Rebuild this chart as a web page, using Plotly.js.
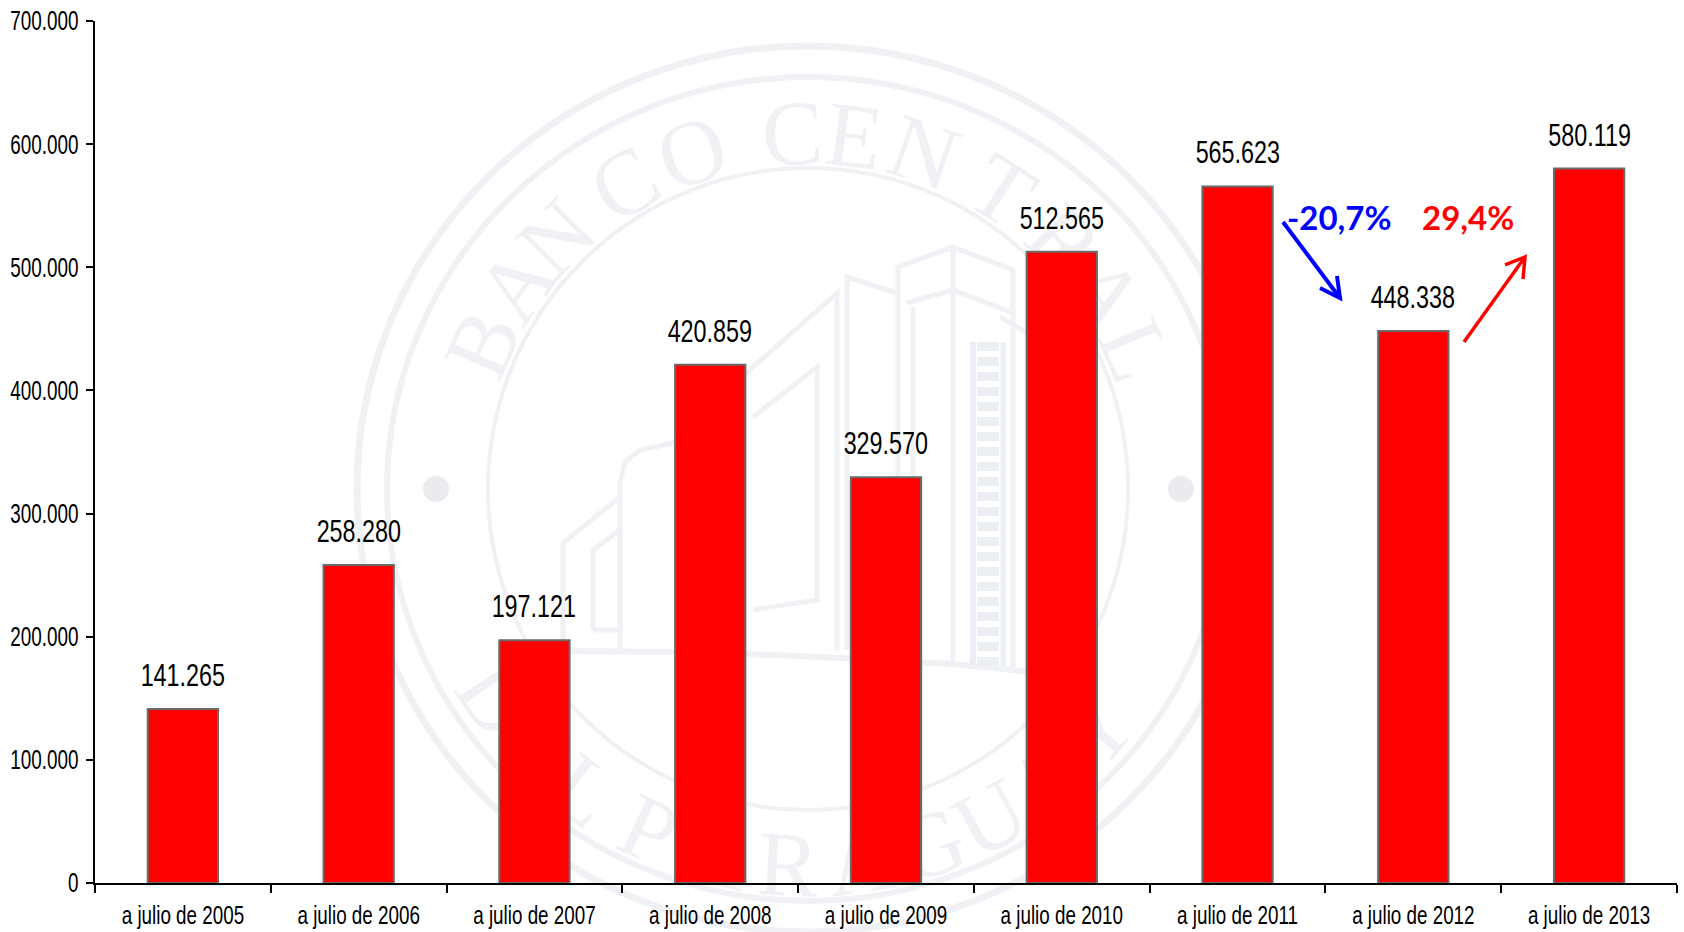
<!DOCTYPE html>
<html>
<head>
<meta charset="utf-8">
<script src="https://cdn.plot.ly/plotly-3.0.1.min.js"></script>
<style>html,body{margin:0;padding:0;background:#fff}#chart{width:1684px;height:932px}</style>
</head>
<body>
<div id="chart"></div>
<script>
const categories = ["a julio de 2005","a julio de 2006","a julio de 2007","a julio de 2008","a julio de 2009","a julio de 2010","a julio de 2011","a julio de 2012","a julio de 2013"];
const values = [141265,258280,197121,420859,329570,512565,565623,448338,580119];
const valueLabels = ["141.265","258.280","197.121","420.859","329.570","512.565","565.623","448.338","580.119"];
const sealTopLetters = ["B","A","N","C","O","C","E","N","T","R","A","L"];
const sealTopAngles = [-66,-55,-45,-31,-19,-2.5,7.5,19,33,46,56.5,67];
const sealBottomLetters = ["D","E","L","P","A","R","A","G","U","A","Y"];
const sealBottomAngles = [-56,-46,-36.7,-25,-14,-3,8,19,29,39,50];

const W = 1684, H = 932, L = 95, R = 1677, T = 21, B = 883;
const px = x => (x - L) / (R - L);
const py = y => (B - y) / (B - T);
const CX = 808, CY = 489, SEAL = '#eff1f4';

function ring(rx, ry, w) {
  return {type:'circle', xref:'paper', yref:'paper', layer:'below',
    x0:px(CX-rx), x1:px(CX+rx), y0:py(CY+ry), y1:py(CY-ry),
    line:{color:SEAL, width:w}, fillcolor:'rgba(0,0,0,0)'};
}
function dot(x, y, r) {
  return {type:'circle', xref:'paper', yref:'paper', layer:'below',
    x0:px(x-r), x1:px(x+r), y0:py(y+r), y1:py(y-r),
    line:{width:0}, fillcolor:'#e9ebef'};
}
function stroke(pts, w, color, dash) {
  const d = pts.map((p,i)=>(i?'L':'M')+px(p[0]).toFixed(5)+','+py(p[1]).toFixed(5)).join(' ');
  return {type:'path', xref:'paper', yref:'paper', layer:'below', path:d,
    line:{color:color||SEAL, width:w||5, dash:dash||'solid'}, fillcolor:'rgba(0,0,0,0)'};
}
function over(pts, w, color) {
  const s = stroke(pts, w, color); s.layer = 'above'; return s;
}
function letter(ch, deg, top) {
  const a = deg*Math.PI/180, r = 366;
  const x = CX + r*Math.sin(a), y = top ? CY - r*Math.cos(a) : CY + r*Math.cos(a);
  const rot = top ? deg : -deg;
  return {type:'rect', xref:'paper', yref:'paper', layer:'below',
    x0:px(x-40), x1:px(x+40), y0:py(y+40), y1:py(y-40),
    line:{width:0}, fillcolor:'rgba(0,0,0,0)',
    label:{text:ch, textangle:rot, textposition:'middle center',
      font:{family:'Liberation Serif', size:92, color:SEAL}}};
}

const shapes = [
  ring(451,443,7), ring(421,412,6), ring(320,321,4),
  dot(436,489,13), dot(1181,489,13),
  ...sealTopLetters.map((c,i)=>letter(c,sealTopAngles[i],true)),
  ...sealBottomLetters.map((c,i)=>letter(c,sealBottomAngles[i],false)),
  // building of the seal
  stroke([[556,651],[700,652],[820,657],[953,664],[1030,672]],6),
  stroke([[563,650],[563,543],[620,497]]),
  stroke([[593,630],[593,550],[620,530],[620,630],[593,630]]),
  stroke([[620,650],[620,483],[625,462],[640,450],[673,443]]),
  stroke([[673,443],[753,367],[837,293],[837,650]]),
  stroke([[753,417],[817,367],[817,600],[753,610]]),
  stroke([[847,650],[847,277],[897,293]]),
  stroke([[898,653],[898,267],[953,247],[1013,270],[1013,667]]),
  stroke([[907,303],[953,290],[1013,313]]),
  stroke([[953,247],[953,662]]),
  stroke([[913,307],[913,655]]),
  stroke([[1000,317],[1027,333]]),
  stroke([[973,342],[973,666]],6,'#ebeff3'),
  stroke([[1003,342],[1003,666]],5,'#ebeff3'),
  stroke([[988,342],[988,666]],22,'#ebeff3','9px,6px'),
  // change arrows
  over([[1283,222],[1340,298]],4,'#0000ff'),
  over([[1320,288],[1340,298],[1337,276]],4,'#0000ff'),
  over([[1464,342],[1525,257]],3.5,'#ff0000'),
  over([[1505,265],[1525,257],[1523,279]],3.5,'#ff0000')
];

const labelFont = {family:'Liberation Sans', size:32, color:'#000'};
const annotations = categories.map((c,i)=>({
  x:c, y:values[i], xref:'x', yref:'y', text:valueLabels[i], showarrow:false,
  yanchor:'bottom', yshift:14, font:labelFont, captureevents:false
}));
annotations.push(
  {xref:'paper', yref:'paper', x:px(1339), y:py(217), xanchor:'center', yanchor:'middle', text:'<b>-20,7%</b>', showarrow:false,
   font:{family:'Lato', size:33, color:'#0000ff'}},
  {xref:'paper', yref:'paper', x:px(1468), y:py(217), xanchor:'center', yanchor:'middle', text:'<b>29,4%</b>', showarrow:false,
   font:{family:'Lato', size:33, color:'#ff0000'}}
);

const trace = {type:'bar', x:categories, y:values, width:0.4,
  marker:{color:'#ff0000', line:{color:'#6a6a6a', width:2}}, hoverinfo:'x+y'};

const layout = {
  width:W, height:H, margin:{l:L, r:W-R, t:T, b:H-B, pad:0},
  paper_bgcolor:'#fff', plot_bgcolor:'rgba(0,0,0,0)', showlegend:false, separators:',.',
  xaxis:{type:'category', range:[-0.5,8.5], tickson:'boundaries', ticks:'outside', ticklen:8, tickwidth:2,
    tickcolor:'#000', showline:true, linecolor:'#000', linewidth:2, showgrid:false, zeroline:false,
    ticklabelstandoff:7,
    tickfont:{family:'Liberation Sans', size:26.5, color:'#000'}, automargin:false, tickangle:0},
  yaxis:{range:[0,700000], tick0:0, dtick:100000, tickformat:',d', ticks:'outside', ticklen:7, tickwidth:2,
    tickcolor:'#000', showline:true, linecolor:'#000', linewidth:2, showgrid:false, zeroline:false,
    ticklabelstandoff:2,
    tickfont:{family:'Liberation Sans', size:27, color:'#000'}, automargin:false},
  shapes, annotations
};

function condense(sel, k) {
  document.querySelectorAll(sel).forEach(t=>{
    const len = t.getComputedTextLength();
    if (len > 0) { t.setAttribute('textLength', (len*k).toFixed(1)); t.setAttribute('lengthAdjust','spacingAndGlyphs'); }
  });
}
Plotly.newPlot('chart',[trace],layout,{displayModeBar:false}).then(()=>{
  condense('.xtick text',0.71);
  condense('.ytick text',0.70);
  document.querySelectorAll('.annotation-text').forEach(t=>{
    const isPct = t.textContent.includes('%');
    if(!isPct) { const len=t.getComputedTextLength(); t.setAttribute('textLength',(len*0.73).toFixed(1)); t.setAttribute('lengthAdjust','spacingAndGlyphs'); }
  });
});
</script>
</body>
</html>
